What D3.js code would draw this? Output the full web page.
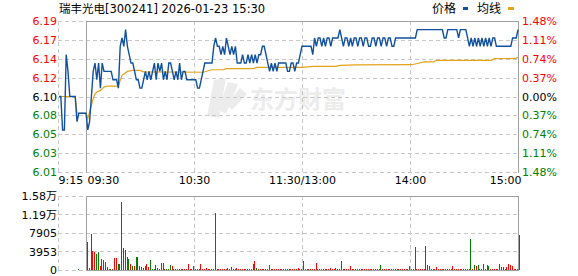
<!DOCTYPE html>
<html><head><meta charset="utf-8">
<script src="https://cdn.jsdelivr.net/npm/d3@7"></script>
<style>body{margin:0;background:#fff}svg{display:block}</style>
</head><body><svg id="c" width="578" height="276"></svg>
<script>
// ---------- data ----------
const titleText = "瑞丰光电[300241] 2026-01-23 15:30";
const legendNames = ["价格", "均线"];
const preClose = 6.10;
const pctTicks = [1.48, 1.11, 0.74, 0.37, 0, -0.37, -0.74, -1.11, -1.48];
const priceTickLabels = ["6.19", "6.17", "6.14", "6.12", "6.10", "6.08", "6.05", "6.03", "6.01"];
const pctTickLabels = ["1.48%", "1.11%", "0.74%", "0.37%", "0.00%", "0.37%", "0.74%", "1.11%", "1.48%"];
const timeTicks = [-15, 0, 60, 120, 180, 240];
const timeTickLabels = ["9:15", "09:30", "10:30", "11:30/13:00", "14:00", "15:00"];
const volTicks = [0, 3953, 7905, 11858, 15810];
const volTickLabels = ["0", "3953", "7905", "1.19万", "1.58万"];

// pre-market minutes (9:15 .. 9:29) relative to 9:30
const preMinutes = [-15, -14, -13, -12, -11, -10, -9, -8, -7, -6, -5, -4, -3, -2, -1];
const prePrices = [6.10, 6.10, 6.06, 6.06, 6.15, 6.13, 6.10, 6.10, 6.10, 6.10, 6.07, 6.08, 6.08, 6.08, 6.08];

// trading minutes 0..240 (9:30 .. 11:30 / 13:00 .. 15:00)
const prices = [
  6.08,6.06,6.07,6.10,6.13,6.14,6.12,6.14,6.11,6.14,
  6.13,6.13,6.13,6.13,6.13,6.12,6.12,6.12,6.11,6.16,
  6.17,6.16,6.18,6.16,6.15,6.14,6.14,6.13,6.12,6.12,
  6.11,6.11,6.12,6.13,6.12,6.13,6.12,6.13,6.14,6.12,
  6.14,6.13,6.14,6.12,6.13,6.12,6.14,6.14,6.13,6.12,
  6.13,6.12,6.14,6.12,6.13,6.13,6.12,6.12,6.12,6.12,
  6.12,6.12,6.11,6.11,6.12,6.13,6.14,6.14,6.14,6.14,
  6.14,6.16,6.17,6.16,6.16,6.15,6.16,6.15,6.17,6.16,
  6.15,6.16,6.15,6.16,6.14,6.14,6.14,6.15,6.14,6.14,
  6.15,6.14,6.15,6.14,6.15,6.14,6.15,6.15,6.16,6.16,
  6.15,6.14,6.13,6.14,6.13,6.14,6.13,6.14,6.14,6.14,
  6.14,6.14,6.13,6.13,6.14,6.14,6.13,6.14,6.14,6.15,
  6.16,6.16,6.16,6.16,6.16,6.16,6.15,6.17,6.16,6.17,
  6.17,6.16,6.17,6.16,6.17,6.17,6.16,6.17,6.17,6.17,
  6.17,6.18,6.17,6.16,6.17,6.17,6.16,6.17,6.16,6.17,
  6.17,6.16,6.17,6.17,6.16,6.17,6.17,6.16,6.16,6.17,
  6.17,6.16,6.17,6.17,6.16,6.17,6.17,6.16,6.17,6.17,
  6.16,6.16,6.17,6.17,6.17,6.17,6.17,6.17,6.17,6.17,
  6.17,6.17,6.17,6.17,6.18,6.18,6.18,6.18,6.18,6.18,
  6.18,6.18,6.18,6.18,6.18,6.18,6.18,6.18,6.18,6.17,
  6.17,6.18,6.18,6.18,6.18,6.18,6.18,6.17,6.18,6.18,
  6.18,6.18,6.17,6.16,6.17,6.16,6.17,6.16,6.17,6.16,
  6.17,6.16,6.17,6.16,6.17,6.16,6.17,6.17,6.16,6.16,
  6.16,6.16,6.16,6.16,6.16,6.16,6.16,6.17,6.17,6.17,
  6.18
];

// average-price line, read at its break points
const avgMinutes = [-15, -6, -5, -1, 0, 1, 2, 3, 4, 5, 6, 8, 10, 12, 18, 19, 20, 21, 23, 26, 30, 32, 65, 70, 76, 78, 93, 95, 120, 126, 139, 141, 150, 181, 184, 188, 193, 195, 225, 227, 239, 240];
const avgValues = [6.10, 6.10, 6.08, 6.08, 6.08, 6.0735, 6.0815, 6.0894, 6.0974, 6.1033, 6.1053, 6.1073, 6.1113, 6.1125, 6.1125, 6.1193, 6.125, 6.127, 6.130, 6.1313, 6.1313, 6.1295, 6.129, 6.132, 6.132, 6.1333, 6.1333, 6.1349, 6.1349, 6.1361, 6.1361, 6.1373, 6.1378, 6.138, 6.1395, 6.1413, 6.1415, 6.1433, 6.1433, 6.1452, 6.1455, 6.147];

const preVolMinutes = [-5];
const preVolumes = [300];
const volumes = [
  5980,500,7640,3980,3900,3330,3900,750,2400,2100,
  1680,540,300,300,150,2470,2470,1180,1180,14585,
  4630,4190,2690,2260,1180,750,750,2830,2690,750,
  600,430,900,1330,600,2040,250,250,1110,500,
  250,1460,1460,250,300,300,1100,860,200,250,
  200,300,200,250,200,300,1180,200,250,750,
  200,300,200,1180,250,200,500,250,200,200,
  250,12090,300,250,200,300,200,250,500,300,
  600,200,250,500,200,250,200,300,200,250,
  200,300,1300,1830,500,200,250,300,200,250,
  200,1110,200,250,200,300,250,200,200,250,
  300,200,250,200,300,200,250,500,200,300,
  1830,200,250,300,200,250,200,1600,200,250,
  200,300,200,250,200,500,250,200,500,200,
  250,1830,200,250,300,200,750,250,200,300,
  200,300,200,250,200,300,200,250,200,300,
  200,250,200,1110,300,200,250,200,300,200,
  250,200,300,200,250,200,300,200,250,750,
  300,200,4840,250,200,300,200,250,5060,1110,
  750,300,200,250,560,200,300,250,200,300,
  200,250,200,750,200,300,250,200,300,200,
  300,250,200,6560,300,1110,750,1110,300,250,
  1180,300,1110,750,300,250,200,300,250,1180,
  560,560,250,560,1180,1110,860,300,250,200,
  7420
];
// minutes whose volume bar is green (price fell)
const downMinutes = [-5, 0, 5, 6, 10, 11, 12, 13, 17, 18, 20, 22, 23, 25, 27, 28, 35, 36, 37, 38, 44, 45, 46, 72, 80, 94, 101, 138, 151, 163, 213, 215, 217, 223, 230, 231];

// ---------- drawing ----------
const svg = d3.select("#c");
const font = "'DejaVu Sans', 'Noto Sans CJK SC', sans-serif";
const RED = "#ff0000", GREEN = "#008000", BLUE = "#10509f", ORANGE = "#e3a21a";
const FRAME = "#a0a0a0", GRID = "#c8c8c8";

const x = d3.scaleLinear().domain([-15, 240]).range([59, 518]);
const y = d3.scaleLinear().domain([preClose * (1 - 0.0148), preClose * (1 + 0.0148)]).range([172, 21]);
const yv = d3.scaleLinear().domain([0, 15810]).range([270, 196]);

const X0 = x(-15) - 1, XL = x(0), XR = x(240);
const px = v => Math.round(v) + 0.5;

// watermark
const wm = svg.append("g").attr("fill", "#ececec");
wm.append("path").attr("d", "M214,80 L226,78 L219,118 L207,116 Z");
wm.append("path").attr("d", "M228,82 L238,84 L226,114 L218,110 Z");
wm.append("path").attr("d", "M240,88 L247,94 L232,110 L227,104 Z");
wm.append("text").attr("x", 250).attr("y", 108).attr("font-family", "'Noto Sans CJK SC', sans-serif")
  .attr("font-size", 24).attr("font-weight", "bold").text("东方财富");

// ---- grids ----
const priceTickVals = pctTicks.map(p => preClose * (1 + p / 100));
const gridG = svg.append("g").attr("shape-rendering", "crispEdges");
gridG.selectAll("line.h").data(priceTickVals).join("line")
  .attr("x1", X0).attr("x2", XR)
  .attr("y1", d => px(y(d))).attr("y2", d => px(y(d)))
  .attr("stroke", GRID).attr("stroke-dasharray", "4,3");
const vGridMinutes = [-15, 60, 120, 180];
gridG.selectAll("line.v").data(vGridMinutes).join("line")
  .attr("x1", d => px(x(d)) - (d === -15 ? 1 : 0)).attr("x2", d => px(x(d)) - (d === -15 ? 1 : 0))
  .attr("y1", y.range()[1]).attr("y2", y.range()[0])
  .attr("stroke", GRID).attr("stroke-dasharray", "4,3");
gridG.selectAll("line.vh").data(volTicks).join("line")
  .attr("x1", X0).attr("x2", XR)
  .attr("y1", d => px(yv(d))).attr("y2", d => px(yv(d)))
  .attr("stroke", GRID).attr("stroke-dasharray", "4,3");
gridG.selectAll("line.vv").data(vGridMinutes).join("line")
  .attr("x1", d => px(x(d)) - (d === -15 ? 1 : 0)).attr("x2", d => px(x(d)) - (d === -15 ? 1 : 0))
  .attr("y1", yv.range()[1]).attr("y2", yv.range()[0])
  .attr("stroke", GRID).attr("stroke-dasharray", "4,3");

// frames
const fr = svg.append("g").attr("shape-rendering", "crispEdges").attr("stroke", FRAME).attr("fill", "none");
fr.append("path").attr("d", `M${px(XL)},${px(y.range()[0])}V${px(y.range()[1])}H${px(XR)}V${px(y.range()[0])}`);
fr.append("path").attr("d", `M${px(XL)},${px(yv.range()[0])}V${px(yv.range()[1])}H${px(XR)}V${px(yv.range()[0])}H${px(XL)}`);

// ---- volume bars ----
const volData = preVolMinutes.map((m, i) => ({ m, v: preVolumes[i] }))
  .concat(volumes.map((v, i) => ({ m: i, v })));
const downSet = new Set(downMinutes);
svg.append("g").attr("shape-rendering", "crispEdges").selectAll("rect").data(volData).join("rect")
  .attr("x", d => Math.round(x(d.m)) + 1).attr("width", 1)
  .attr("y", d => yv(d.v)).attr("height", d => yv(0) - yv(d.v))
  .attr("fill", d => downSet.has(d.m) ? GREEN : RED);

// ---- lines ----
const priceSeries = preMinutes.map((m, i) => [m, prePrices[i]]).concat(prices.map((p, i) => [i, p]));
const avgSeries = avgMinutes.map((m, i) => [m, avgValues[i]]);
const line = d3.line().x(d => x(d[0])).y(d => y(d[1]));
svg.append("path").datum(avgSeries).attr("d", line).attr("fill", "none")
  .attr("stroke", ORANGE).attr("stroke-width", 1.2);
svg.append("path").datum(priceSeries).attr("d", line).attr("fill", "none")
  .attr("stroke", BLUE).attr("stroke-width", 1.4);

// ---- axes ----
function styleAxis(g) {
  g.select(".domain").remove();
  g.selectAll("line").remove();
  g.selectAll("text").attr("font-family", font).attr("font-size", 11);
}
const colorFor = i => pctTicks[i] > 0 ? RED : (pctTicks[i] < 0 ? GREEN : "#000");
svg.append("g").attr("transform", "translate(57,0)")
  .call(d3.axisLeft(y).tickValues(priceTickVals).tickFormat((d, i) => priceTickLabels[i]).tickSize(0).tickPadding(0))
  .call(styleAxis)
  .selectAll("text").attr("fill", (d, i) => colorFor(i));
svg.append("g").attr("transform", "translate(522,0)")
  .call(d3.axisRight(y).tickValues(priceTickVals).tickFormat((d, i) => pctTickLabels[i]).tickSize(0).tickPadding(0))
  .call(styleAxis)
  .selectAll("text").attr("fill", (d, i) => colorFor(i));
svg.append("g").attr("transform", "translate(57,0)")
  .call(d3.axisLeft(yv).tickValues(volTicks).tickFormat((d, i) => volTickLabels[i]).tickSize(0).tickPadding(0))
  .call(styleAxis)
  .selectAll("text").attr("fill", "#000");
const tAx = svg.append("g").attr("transform", "translate(0,174)")
  .call(d3.axisBottom(x).tickValues(timeTicks).tickFormat((d, i) => timeTickLabels[i]).tickSize(0).tickPadding(0))
  .call(styleAxis);
tAx.selectAll("text").attr("fill", "#000").attr("dy", "0.95em")
  .attr("text-anchor", (d, i) => i < 2 ? "start" : (i === timeTicks.length - 1 ? "end" : "middle"))
  .attr("dx", (d, i) => i === 0 ? -1 : (i === 1 ? 1 : (i === timeTicks.length - 1 ? 3 : 0)));

// ---- title & legend ----
svg.append("text").attr("x", 59).attr("y", 13).attr("font-family", font).attr("font-size", 11.5)
  .attr("fill", "#000").text(titleText);
const lg = svg.append("g").attr("font-family", "'Noto Sans CJK SC', sans-serif").attr("font-size", 12).attr("fill", "#000");
lg.append("text").attr("x", 432).attr("y", 13).text(legendNames[0]);
lg.append("rect").attr("x", 463).attr("y", 7).attr("width", 5).attr("height", 3).attr("fill", BLUE);
lg.append("text").attr("x", 477).attr("y", 13).text(legendNames[1]);
lg.append("rect").attr("x", 508).attr("y", 7).attr("width", 6).attr("height", 3).attr("fill", ORANGE);
</script>
</body></html>
